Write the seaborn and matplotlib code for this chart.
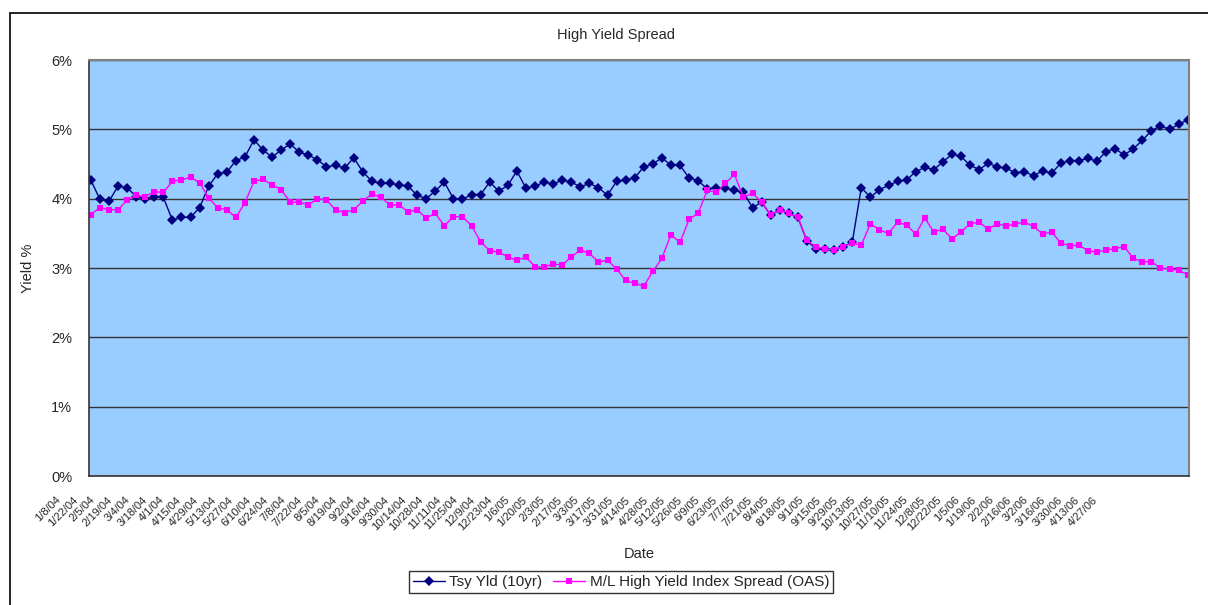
import numpy as np
import pandas as pd
import matplotlib
matplotlib.use("Agg")
import matplotlib.pyplot as plt
import matplotlib.transforms as mtransforms
from matplotlib.patches import Rectangle
import seaborn as sns

# weekly observations, 1/8/04 .. 5/4/06 (percent)
tsy_yld = [4.27, 3.99, 3.96, 4.18, 4.16, 4.03, 4.00, 4.02, 4.02, 3.69,
           3.73, 3.73, 3.87, 4.18, 4.36, 4.38, 4.55, 4.60, 4.85, 4.70,
           4.60, 4.70, 4.79, 4.67, 4.63, 4.56, 4.46, 4.48, 4.44, 4.59,
           4.39, 4.25, 4.22, 4.22, 4.20, 4.18, 4.05, 4.00, 4.11, 4.24,
           4.00, 3.99, 4.06, 4.06, 4.24, 4.11, 4.19, 4.40, 4.15, 4.18,
           4.24, 4.21, 4.27, 4.24, 4.17, 4.22, 4.16, 4.05, 4.25, 4.27,
           4.30, 4.46, 4.50, 4.59, 4.48, 4.48, 4.30, 4.26, 4.14, 4.16,
           4.15, 4.12, 4.09, 3.87, 3.95, 3.76, 3.84, 3.79, 3.73, 3.39,
           3.28, 3.27, 3.26, 3.31, 3.37, 4.16, 4.02, 4.13, 4.19, 4.25,
           4.27, 4.39, 4.45, 4.42, 4.53, 4.64, 4.61, 4.48, 4.42, 4.51,
           4.46, 4.44, 4.37, 4.39, 4.33, 4.40, 4.37, 4.51, 4.55, 4.55,
           4.58, 4.54, 4.68, 4.72, 4.63, 4.72, 4.84, 4.98, 5.05, 5.00,
           5.07, 5.14]

hy_oas = [3.77, 3.87, 3.84, 3.84, 3.98, 4.05, 4.03, 4.10, 4.09, 4.25,
          4.27, 4.31, 4.23, 4.01, 3.87, 3.84, 3.73, 3.94, 4.25, 4.28,
          4.20, 4.13, 3.95, 3.95, 3.91, 4.00, 3.98, 3.84, 3.80, 3.84,
          3.96, 4.07, 4.02, 3.91, 3.91, 3.81, 3.84, 3.72, 3.79, 3.61,
          3.74, 3.74, 3.61, 3.38, 3.25, 3.23, 3.16, 3.11, 3.16, 3.02,
          3.01, 3.06, 3.04, 3.16, 3.26, 3.21, 3.09, 3.11, 2.99, 2.82,
          2.78, 2.74, 2.95, 3.14, 3.48, 3.37, 3.70, 3.79, 4.12, 4.09,
          4.22, 4.35, 4.02, 4.08, 3.95, 3.77, 3.84, 3.79, 3.73, 3.40,
          3.30, 3.28, 3.26, 3.31, 3.36, 3.33, 3.64, 3.55, 3.50, 3.66,
          3.62, 3.49, 3.72, 3.52, 3.56, 3.42, 3.52, 3.64, 3.66, 3.56,
          3.64, 3.60, 3.64, 3.66, 3.60, 3.49, 3.52, 3.36, 3.32, 3.33,
          3.25, 3.23, 3.26, 3.28, 3.31, 3.14, 3.09, 3.09, 3.00, 2.98,
          2.97, 2.90]

dates = pd.date_range("2004-01-08", periods=len(tsy_yld), freq="7D")
date_labels = [f"{d.month}/{d.day}/{d:%y}" for d in dates]
y_ticks = [0, 1, 2, 3, 4, 5, 6]

df = pd.DataFrame({"pos": np.arange(len(dates)), "tsy": tsy_yld, "oas": hy_oas})

sns.set_style("white")
plt.rcParams["font.family"] = ["Liberation Sans", "DejaVu Sans"]

fig = plt.figure(figsize=(12.08, 6.05), dpi=100)
ax = fig.add_axes([89 / 1208, 1 - 476 / 605, 1100 / 1208, 416 / 605])
ax.set_facecolor("#99CCFF")

sns.lineplot(data=df, x="pos", y="tsy", color="#000080", marker="D", markersize=5.3,
             markeredgewidth=0, linewidth=1, label="Tsy Yld (10yr)", ax=ax)
sns.lineplot(data=df, x="pos", y="oas", color="#FF00FF", marker="s", markersize=4.6,
             markeredgewidth=0, linewidth=1, label="M/L High Yield Index Spread (OAS)", ax=ax)

ax.set_xlim(-0.2, len(dates) - 1 + 0.15)
ax.set_ylim(0, 6)
ax.set_yticks(y_ticks)
ax.set_yticklabels([f"{t}%" for t in y_ticks], fontsize=10.5)
ax.yaxis.grid(True, color="#333333", linewidth=1)
ax.xaxis.grid(False)
ax.tick_params(axis="y", length=0, pad=12)

tick_pos = df["pos"].values[::2]
ax.set_xticks(tick_pos)
ax.set_xticklabels(date_labels[::2], rotation=45, ha="right", va="center",
                   rotation_mode="anchor", fontsize=8)
ax.tick_params(axis="x", direction="in", length=3, width=0.8, color="#333333", pad=16)
# Excel squeezes the date labels to the left of their ticks
px = fig.dpi / 100
squeeze = mtransforms.Affine2D().scale(0.953, 1).translate(-27.5 * px, 0)
for lbl in ax.get_xticklabels():
    lbl.set_transform(lbl.get_transform() + squeeze)

ax.set_xlabel("Date", fontsize=10.5, labelpad=2)
ax.set_ylabel("Yield %", fontsize=10.5, labelpad=12)
ax.xaxis.set_label_coords(0.5, -0.17)

for side in ["left", "bottom"]:
    ax.spines[side].set_color("#333333")
    ax.spines[side].set_linewidth(1.2)
for side in ["top", "right"]:
    ax.spines[side].set_color("#808080")
    ax.spines[side].set_linewidth(1.5)

handles, labels = ax.get_legend_handles_labels()
ax.get_legend().remove()
leg = fig.legend(handles, labels, loc="center", bbox_to_anchor=(0.514, 0.038), ncol=2,
                 frameon=True, fancybox=False, edgecolor="black", fontsize=11,
                 handlelength=2.1, handletextpad=0.3, columnspacing=0.7, borderpad=0.25)
leg.get_frame().set_linewidth(1)

fig.text(616 / 1208, 1 - 35 / 605, "High Yield Spread", ha="center", va="center", fontsize=10.5)

# chart-area border (left and top edges visible)
fig.patches.append(Rectangle((9.5 / 1208, -0.1), 1.2, 1 - 12.5 / 605 + 0.1,
                             transform=fig.transFigure, fill=False,
                             edgecolor="black", linewidth=1.2))

fig.savefig("out.png", dpi=100)
